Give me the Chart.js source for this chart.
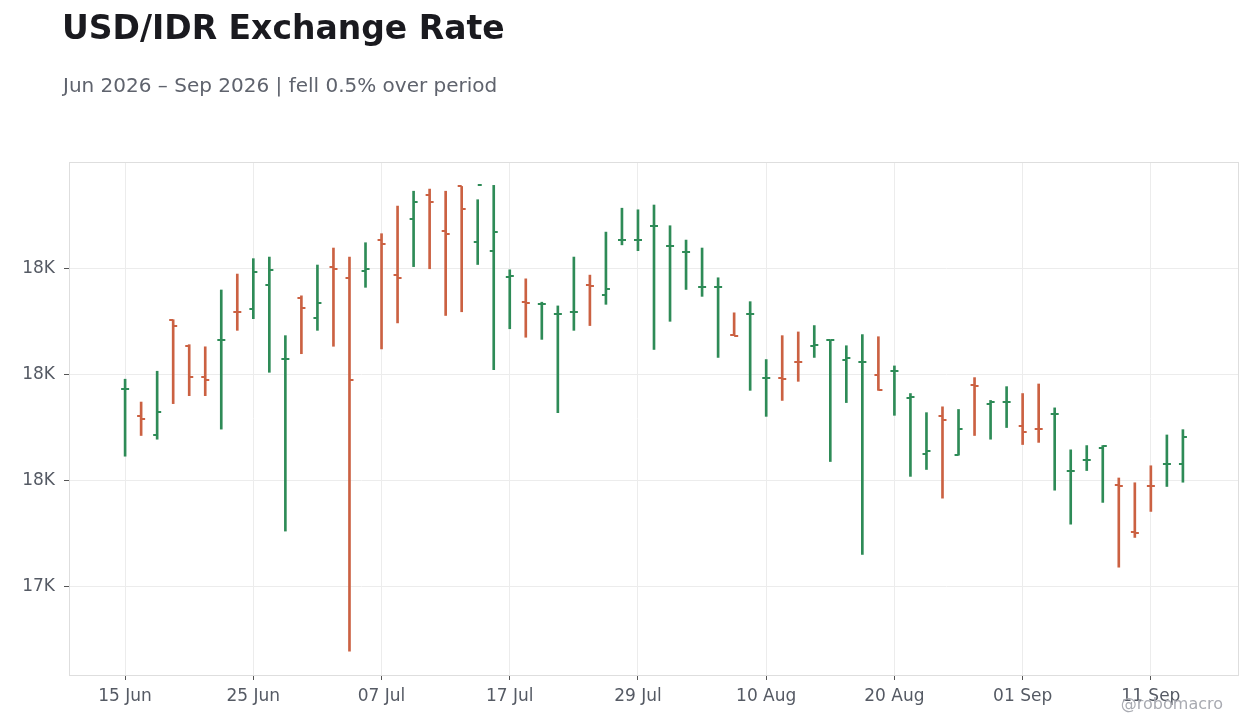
<!DOCTYPE html>
<html>
<head>
<meta charset="utf-8">
<script src="https://cdn.jsdelivr.net/npm/chart.js@4.4.1/dist/chart.umd.min.js"></script>
<style>
  html, body { margin: 0; padding: 0; background: #fff; }
  #wrap { position: relative; width: 1260px; height: 728px; overflow: hidden; font-family: 'DejaVu Sans', sans-serif; }
  #fxChart { position: absolute; left: 0; top: 0; }
  .title { position: absolute; left: 62px; top: 11px; font-size: 33px; font-weight: bold; color: #1a1a1f; line-height: 1; white-space: nowrap; }
  .subtitle { position: absolute; left: 63px; top: 75px; font-size: 20px; color: #5f636d; line-height: 1; white-space: nowrap; }
  .credit { position: absolute; right: 37px; top: 696px; font-size: 16px; color: #a9abb2; line-height: 1; white-space: nowrap; }
</style>
</head>
<body>
<div id="wrap">
  <canvas id="fxChart" width="1260" height="728"></canvas>
  <div class="title">USD/IDR Exchange Rate</div>
  <div class="subtitle">Jun 2026 – Sep 2026 | fell 0.5% over period</div>
  <div class="credit">@robomacro</div>
</div>
<script>
// trading days (Mon-Fri), 15 Jun 2026 - 15 Sep 2026
const dates = [
    '2026-06-15', '2026-06-16', '2026-06-17', '2026-06-18', '2026-06-19',
    '2026-06-22', '2026-06-23', '2026-06-24', '2026-06-25', '2026-06-26',
    '2026-06-29', '2026-06-30', '2026-07-01', '2026-07-02', '2026-07-03',
    '2026-07-06', '2026-07-07', '2026-07-08', '2026-07-09', '2026-07-10',
    '2026-07-13', '2026-07-14', '2026-07-15', '2026-07-16', '2026-07-17',
    '2026-07-20', '2026-07-21', '2026-07-22', '2026-07-23', '2026-07-24',
    '2026-07-27', '2026-07-28', '2026-07-29', '2026-07-30', '2026-07-31',
    '2026-08-03', '2026-08-04', '2026-08-05', '2026-08-06', '2026-08-07',
    '2026-08-10', '2026-08-11', '2026-08-12', '2026-08-13', '2026-08-14',
    '2026-08-17', '2026-08-18', '2026-08-19', '2026-08-20', '2026-08-21',
    '2026-08-24', '2026-08-25', '2026-08-26', '2026-08-27', '2026-08-28',
    '2026-08-31', '2026-09-01', '2026-09-02', '2026-09-03', '2026-09-04',
    '2026-09-07', '2026-09-08', '2026-09-09', '2026-09-10', '2026-09-11',
    '2026-09-14', '2026-09-15'
];

const openVals = [
    17773, 17722, 17686, 17902, 17853, 17796, 17864, 17918, 17924, 17969,
    17829, 17944, 17907, 18003, 17982, 17994, 18054, 17988, 18093, 18137,
    18070, 18154, 18050, 18033, 17984, 17937, 17932, 17913, 17918, 17969,
    17949, 18054, 18054, 18080, 18041, 18031, 17964, 17964, 17875, 17913,
    17794, 17794, 17824, 17853, 17864, 17828, 17824, 17798, 17807, 17755,
    17651, 17721, 17649, 17781, 17745, 17749, 17702, 17698, 17725, 17619,
    17638, 17661, 17591, 17504, 17590, 17631, 17631
];
const highVals = [
    17791, 17748, 17806, 17903, 17856, 17852, 17959, 17989, 18018, 18021,
    17873, 17948, 18006, 18038, 18021, 18048, 18065, 18117, 18145, 18149,
    18145, 18154, 18129, 18156, 17997, 17980, 17936, 17929, 18021, 17987,
    18068, 18113, 18110, 18119, 18080, 18053, 18038, 17982, 17916, 17937,
    17828, 17873, 17880, 17892, 17864, 17854, 17875, 17871, 17816, 17764,
    17728, 17739, 17734, 17794, 17751, 17777, 17764, 17782, 17737, 17658,
    17666, 17666, 17605, 17596, 17628, 17686, 17696
];
const lowVals = [
    17646, 17685, 17678, 17745, 17760, 17760, 17697, 17883, 17905, 17804,
    17505, 17839, 17883, 17853, 17279, 17964, 17848, 17897, 18003, 17999,
    17911, 17918, 18007, 17809, 17886, 17870, 17866, 17728, 17883, 17892,
    17932, 18044, 18033, 17847, 17900, 17960, 17947, 17832, 17873, 17770,
    17721, 17751, 17787, 17832, 17636, 17747, 17461, 17770, 17723, 17608,
    17621, 17567, 17648, 17685, 17678, 17700, 17668, 17672, 17582, 17518,
    17619, 17559, 17437, 17493, 17542, 17589, 17597
];
const closeVals = [
    17773, 17717, 17730, 17892, 17796, 17789, 17864, 17917, 17992, 17996,
    17829, 17926, 17935, 17999, 17789, 17999, 18046, 17981, 18125, 18125,
    18065, 18112, 18157, 18069, 17986, 17935, 17932, 17913, 17918, 17967,
    17960, 18054, 18054, 18080, 18041, 18031, 17964, 17964, 17873, 17913,
    17794, 17792, 17823, 17855, 17864, 17830, 17824, 17770, 17807, 17757,
    17655, 17715, 17697, 17779, 17749, 17749, 17691, 17697, 17725, 17619,
    17638, 17665, 17589, 17502, 17589, 17631, 17683
];

// x ticks every 8 trading days, y ticks every 200
const xTickIdx = [0, 8, 16, 24, 32, 40, 48, 56, 64];
const yTickVals = [17400, 17600, 17800, 18000];

const UP = '#2e8b57';
const DOWN = '#cb6142';
const MONTHS = ['Jan', 'Feb', 'Mar', 'Apr', 'May', 'Jun', 'Jul', 'Aug', 'Sep', 'Oct', 'Nov', 'Dec'];

function isUp(i) {
    return closeVals[i] >= openVals[i];
}

// little open / close tick marks used as point images
function makeTick(color, side) {
    const c = document.createElement('canvas');
    c.width = 10;
    c.height = 2;
    const g = c.getContext('2d');
    g.fillStyle = color;
    if (side === 'left') g.fillRect(1, 0, 4, 2);
    else g.fillRect(5, 0, 4, 2);
    return c;
}
const tickImg = {
    openUp: makeTick(UP, 'left'),
    openDown: makeTick(DOWN, 'left'),
    closeUp: makeTick(UP, 'right'),
    closeDown: makeTick(DOWN, 'right'),
};

function fmtDate(s) {
    const p = s.split('-');
    return p[2] + ' ' + MONTHS[parseInt(p[1], 10) - 1];
}

// light frame round the plot area
const frame = {
    id: 'frame',
    beforeDatasetsDraw(chart) {
        const a = chart.chartArea;
        const ctx = chart.ctx;
        ctx.save();
        ctx.strokeStyle = '#dedede';
        ctx.lineWidth = 1;
        ctx.strokeRect(Math.round(a.left) + 0.5, Math.round(a.top) + 0.5,
            Math.round(a.right - a.left) - 1, Math.round(a.bottom - a.top));
        ctx.restore();
    }
};

const rangeData = dates.map((d, i) => ({ x: i, y: [lowVals[i], highVals[i]] }));
const openData = dates.map((d, i) => ({ x: i, y: openVals[i] }));
const closeData = dates.map((d, i) => ({ x: i, y: closeVals[i] }));

const tickFont = { family: 'DejaVu Sans', size: 17 };

new Chart(document.getElementById('fxChart'), {
    type: 'bar',
    data: {
        datasets: [
            {
                label: 'High-Low',
                data: rangeData,
                backgroundColor: ctx => isUp(ctx.dataIndex) ? UP : DOWN,
                borderWidth: 0,
                barThickness: 2,
                grouped: false,
                order: 2,
            },
            {
                type: 'scatter',
                label: 'Open',
                data: openData,
                pointStyle: ctx => isUp(ctx.dataIndex) ? tickImg.openUp : tickImg.openDown,
                pointRadius: 3,
                order: 1,
            },
            {
                type: 'scatter',
                label: 'Close',
                data: closeData,
                pointStyle: ctx => isUp(ctx.dataIndex) ? tickImg.closeUp : tickImg.closeDown,
                pointRadius: 3,
                order: 1,
            },
        ],
    },
    options: {
        responsive: false,
        animation: false,
        devicePixelRatio: 1,
        events: [],
        layout: { padding: { top: 162, left: 0, right: 21, bottom: 0 } },
        plugins: {
            legend: { display: false },
            tooltip: { enabled: false },
        },
        scales: {
            x: {
                type: 'linear',
                min: -3.5,
                max: 69.5,
                offset: false,
                afterBuildTicks: scale => {
                    scale.ticks = xTickIdx.map(v => ({ value: v }));
                },
                afterFit: scale => { scale.height = 53; },
                grid: { offset: false, color: '#ececec', tickColor: '#555', tickLength: 5 },
                border: { display: false },
                ticks: {
                    font: tickFont,
                    color: '#555a64',
                    padding: 6,
                    maxRotation: 0,
                    autoSkip: false,
                    callback: v => fmtDate(dates[v]),
                },
            },
            y: {
                min: 17234,
                max: 18200,
                afterBuildTicks: scale => {
                    scale.ticks = yTickVals.map(v => ({ value: v }));
                },
                afterFit: scale => { scale.width = 69; },
                grid: { color: '#ececec', tickColor: '#555', tickLength: 5 },
                border: { display: false },
                ticks: {
                    font: tickFont,
                    color: '#555a64',
                    padding: 9,
                    callback: v => (v / 1000).toPrecision(2) + 'K',
                },
            },
        },
    },
    plugins: [frame],
});
</script>
</body>
</html>
